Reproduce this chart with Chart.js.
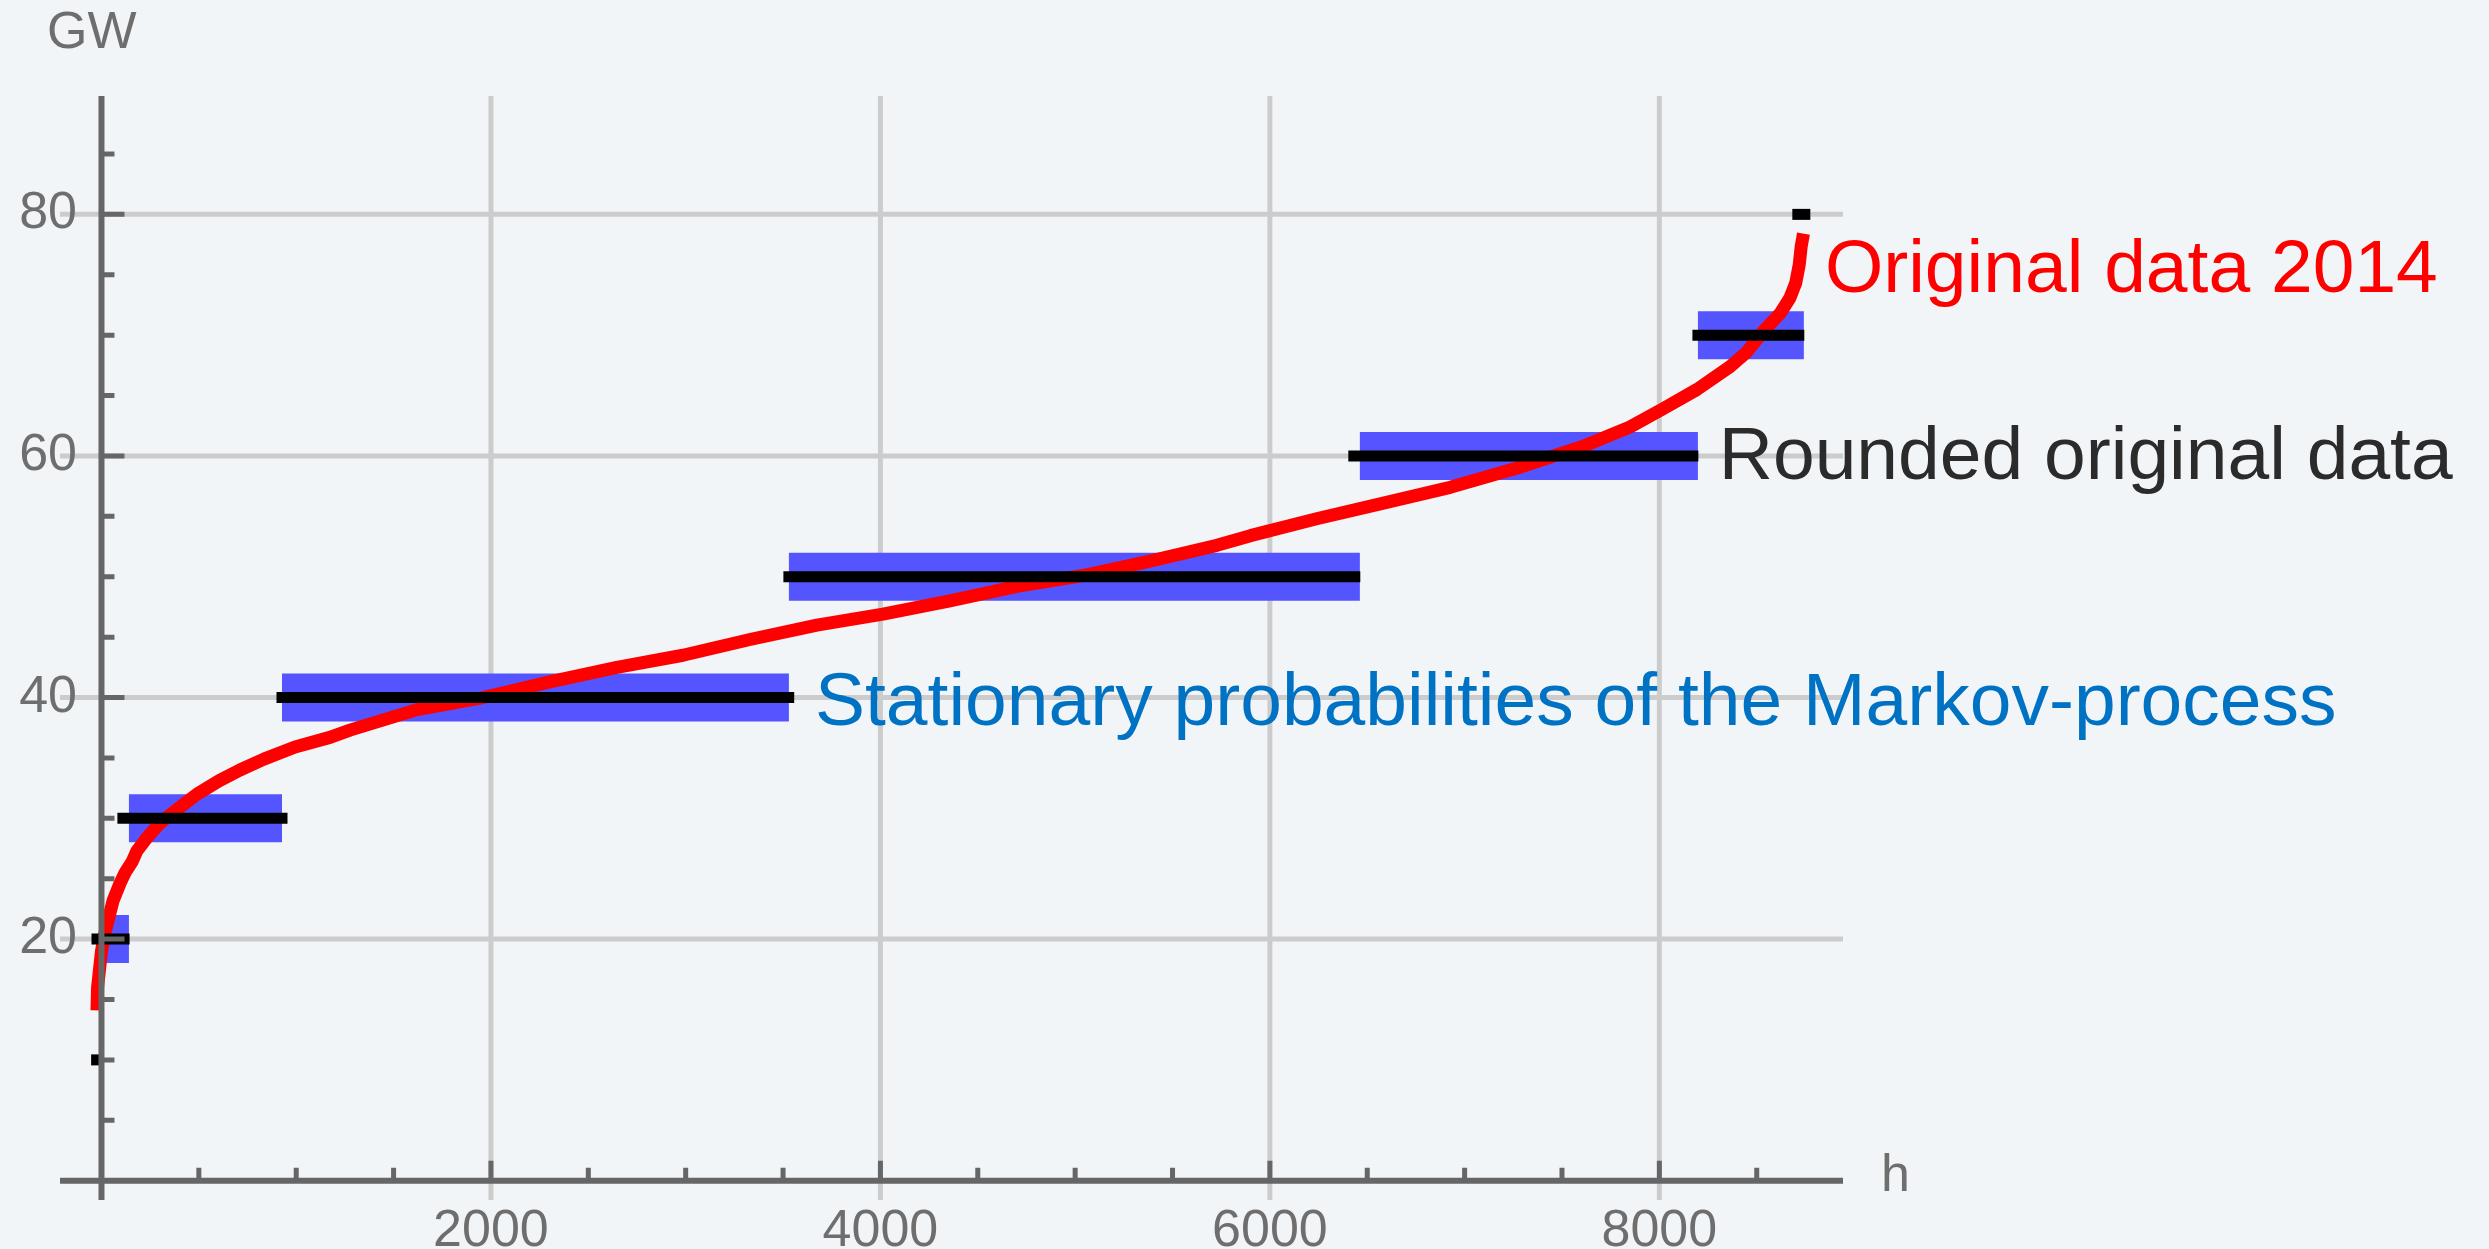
<!DOCTYPE html>
<html>
<head>
<meta charset="utf-8">
<title>Load duration 2014</title>
<script src="https://cdn.jsdelivr.net/npm/chart.js@4.4.1/dist/chart.umd.min.js"></script>
<style>
    html, body { margin: 0; padding: 0; background: #f2f5f8; }
    #durationChart { display: block; }
</style>
</head>
<body>
<canvas id="durationChart" width="2489" height="1249"></canvas>
<script>
// DATA
// sorted hourly load 2014 (hour of year -> GW)
const curveHours = [-23, -20, -10, 0, 15, 33, 60, 95, 121, 157, 182, 234, 300, 409, 491, 603, 711, 834, 994, 1173, 1276, 1620, 1960, 2302, 2647, 2986, 3330, 3674, 4013, 4357, 4701, 5040, 5384, 5728, 5900, 6240, 6583, 6926, 7270, 7609, 7849, 8018, 8193, 8363, 8449, 8533, 8620, 8671, 8700, 8718, 8728, 8740];
const curveGW = [14.1, 16.0, 17.5, 19.0, 20.3, 21.5, 23.2, 24.6, 25.5, 26.4, 27.3, 28.4, 29.6, 31.0, 32.0, 33.1, 34.0, 34.9, 35.9, 36.7, 37.3, 39.0, 40.0, 41.3, 42.5, 43.5, 44.8, 46.0, 46.9, 48.0, 49.2, 50.1, 51.3, 52.6, 53.4, 54.8, 56.1, 57.4, 59.0, 60.8, 62.4, 63.9, 65.5, 67.4, 68.6, 70.3, 71.8, 73.1, 74.3, 75.8, 77.3, 78.4];

// load rounded to 10 GW: level, first hour, last hour
const roundedLevels = [10, 20, 30, 40, 50, 60, 70, 80];
const roundedStart = [-25, -23, 110, 927, 3530, 6431, 8198, 8711];
const roundedEnd = [-21, 116, 927, 3529, 6436, 8172, 8716, 8747];

// stationary probabilities of the Markov process, stacked as hours
const stationaryLevels = [20, 30, 40, 50, 60, 70];
const stationaryStart = [0, 141, 927, 3530, 6462, 8198];
const stationaryEnd = [141, 927, 3530, 6462, 8198, 8742];

const xTicks = [2000, 4000, 6000, 8000];
const yTicks = [20, 40, 60, 80];

const FONT = '"Liberation Sans", Arial, sans-serif';

// one dataset per horizontal span
function spanSets(levels, starts, ends, style) {
    return levels.map((v, i) => Object.assign({
        data: [{ x: starts[i], y: v }, { x: ends[i], y: v }],
        showLine: true, pointRadius: 0, fill: false
    }, style));
}

const blueSets = spanSets(stationaryLevels, stationaryStart, stationaryEnd,
    { borderColor: '#5555ff', borderWidth: 48, borderCapStyle: 'butt', order: 3 });
const blackSets = spanSets(roundedLevels, roundedStart, roundedEnd,
    { borderColor: '#000000', borderWidth: 11, borderCapStyle: 'square', order: 1 });
const redSet = {
    data: curveHours.map((h, i) => ({ x: h, y: curveGW[i] })),
    showLine: true, pointRadius: 0, fill: false,
    borderColor: '#ff0000', borderWidth: 13, borderJoinStyle: 'round', order: 2
};

// AXES, GRID AND LABELS
const frame = {
    id: 'frame',
    beforeDatasetsDraw(chart) {
        const { ctx, chartArea: a, scales: { x, y } } = chart;
        ctx.save();
        ctx.strokeStyle = '#cccccc';
        ctx.lineWidth = 5;
        xTicks.forEach(t => {
            const px = x.getPixelForValue(t);
            ctx.beginPath(); ctx.moveTo(px, a.top); ctx.lineTo(px, a.bottom); ctx.stroke();
        });
        yTicks.forEach(t => {
            const py = y.getPixelForValue(t);
            ctx.beginPath(); ctx.moveTo(a.left, py); ctx.lineTo(a.right, py); ctx.stroke();
        });
        ctx.restore();
    },
    afterDatasetsDraw(chart) {
        const { ctx, chartArea: a, scales: { x, y } } = chart;
        const x0 = x.getPixelForValue(0), y0 = y.getPixelForValue(0);
        ctx.save();
        ctx.strokeStyle = '#666666';
        ctx.lineWidth = 6;
        ctx.beginPath();
        ctx.moveTo(x0, a.top); ctx.lineTo(x0, a.bottom);
        ctx.moveTo(a.left, y0); ctx.lineTo(a.right, y0);
        ctx.stroke();

        // tick marks, long ones at the labelled values
        ctx.lineWidth = 5;
        ctx.beginPath();
        for (let v = 5; v < y.max; v += 5) {
            const py = y.getPixelForValue(v);
            ctx.moveTo(x0, py); ctx.lineTo(x0 + (yTicks.includes(v) ? 23 : 13), py);
        }
        for (let h = 500; h < x.max; h += 500) {
            const px = x.getPixelForValue(h);
            ctx.moveTo(px, y0); ctx.lineTo(px, y0 - (xTicks.includes(h) ? 20 : 13));
        }
        ctx.stroke();

        ctx.fillStyle = '#6e6e6e';
        ctx.font = '52px ' + FONT;
        ctx.textAlign = 'right';
        yTicks.forEach(t => ctx.fillText(String(t), 77, y.getPixelForValue(t) + 14));
        ctx.textAlign = 'center';
        xTicks.forEach(t => ctx.fillText(String(t), x.getPixelForValue(t), y0 + 65));
        ctx.textAlign = 'left';
        ctx.fillText('GW', 47, a.top - 48);
        ctx.fillText('h', a.right + 38, y0 + 10);

        // series captions next to their marks
        ctx.font = '75px ' + FONT;
        const cap = 27;
        ctx.fillStyle = '#ff0000';
        ctx.fillText('Original data 2014', x.getPixelForValue(8850), y.getPixelForValue(75.8) + cap);
        ctx.fillStyle = '#2b2b2b';
        ctx.fillText('Rounded original data', x.getPixelForValue(8305), y.getPixelForValue(60.3) + cap);
        ctx.fillStyle = '#0072c4';
        ctx.fillText('Stationary probabilities of the Markov-process', x.getPixelForValue(3664), y.getPixelForValue(40) + cap);
        ctx.restore();
    }
};

new Chart(document.getElementById('durationChart'), {
    type: 'scatter',
    data: { datasets: [...blueSets, redSet, ...blackSets] },
    options: {
        responsive: false,
        animation: false,
        layout: { padding: { left: 60, right: 646, top: 96, bottom: 49 } },
        scales: {
            x: { type: 'linear', min: -213, max: 8943, display: false },
            y: { type: 'linear', min: -1.6, max: 89.8, display: false }
        },
        plugins: { legend: { display: false }, tooltip: { enabled: false } }
    },
    plugins: [frame]
});
</script>
</body>
</html>
